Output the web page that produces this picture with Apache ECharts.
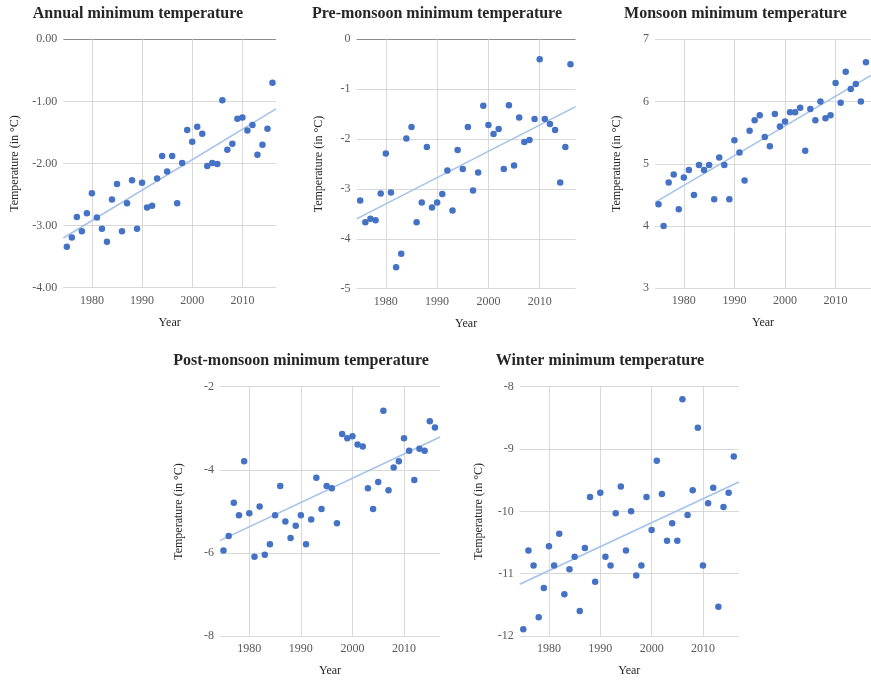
<!DOCTYPE html>
<html><head><meta charset="utf-8">
<script src="https://cdn.jsdelivr.net/npm/echarts@6/dist/echarts.min.js"></script>
<style>html,body{margin:0;padding:0;background:#fff;overflow:hidden}#c{width:871px;height:682px}</style>
</head><body><div id="c"></div>
<script>
// ---- data ----
const years = [1975,1976,1977,1978,1979,1980,1981,1982,1983,1984,1985,1986,1987,1988,1989,1990,1991,1992,1993,1994,1995,1996,1997,1998,1999,2000,2001,2002,2003,2004,2005,2006,2007,2008,2009,2010,2011,2012,2013,2014,2015,2016];
const annualMin = [-3.34,-3.19,-2.86,-3.09,-2.80,-2.48,-2.87,-3.05,-3.26,-2.58,-2.33,-3.09,-2.64,-2.27,-3.05,-2.31,-2.71,-2.68,-2.24,-1.88,-2.13,-1.88,-2.64,-1.99,-1.46,-1.65,-1.41,-1.52,-2.04,-1.99,-2.01,-0.98,-1.78,-1.68,-1.28,-1.26,-1.47,-1.38,-1.86,-1.70,-1.44,-0.70];
const preMonsoonMin = [-3.23,-3.67,-3.60,-3.63,-3.09,-2.29,-3.07,-4.57,-4.30,-1.99,-1.76,-3.67,-3.27,-2.16,-3.37,-3.27,-3.10,-2.63,-3.43,-2.22,-2.60,-1.76,-3.03,-2.67,-1.33,-1.72,-1.90,-1.80,-2.60,-1.32,-2.53,-1.57,-2.06,-2.02,-1.60,-0.40,-1.60,-1.70,-1.82,-2.87,-2.16,-0.50];
const monsoonMin = [4.35,4.00,4.70,4.83,4.27,4.78,4.90,4.50,4.98,4.90,4.98,4.43,5.10,4.98,4.43,5.38,5.18,4.73,5.53,5.70,5.78,5.43,5.28,5.80,5.60,5.68,5.83,5.83,5.90,5.21,5.88,5.70,6.00,5.73,5.78,6.30,5.98,6.48,6.20,6.28,6.00,6.63];
const postMonsoonMin = [-5.94,-5.59,-4.79,-5.09,-3.79,-5.04,-6.09,-4.88,-6.04,-5.79,-5.09,-4.39,-5.24,-5.64,-5.34,-5.09,-5.79,-5.19,-4.19,-4.94,-4.39,-4.44,-5.28,-3.14,-3.24,-3.19,-3.39,-3.44,-4.44,-4.94,-4.29,-2.58,-4.49,-3.94,-3.79,-3.24,-3.54,-4.24,-3.49,-3.54,-2.83,-2.98];
const winterMin = [-11.89,-10.63,-10.87,-11.70,-11.23,-10.56,-10.87,-10.36,-11.33,-10.93,-10.73,-11.60,-10.59,-9.77,-11.13,-9.70,-10.73,-10.87,-10.03,-9.60,-10.63,-10.00,-11.03,-10.87,-9.77,-10.30,-9.19,-9.72,-10.47,-10.19,-10.47,-8.20,-10.06,-9.66,-8.66,-10.87,-9.87,-9.62,-11.53,-9.93,-9.70,-9.12];
// trend line end points [year, value]
const annualTrend = [[1974.3,-3.20],[2016.7,-1.12]];
const preMonsoonTrend = [[1974.3,-3.60],[2017,-1.35]];
const monsoonTrend = [[1974.3,4.38],[2017,6.42]];
const postMonsoonTrend = [[1974.3,-5.70],[2017,-3.21]];
const winterTrend = [[1974.3,-11.17],[2017,-9.53]];
const xTickYears = [1980,1990,2000,2010];
const titles = ['Annual minimum temperature','Pre-monsoon minimum temperature','Monsoon minimum temperature','Post-monsoon minimum temperature','Winter minimum temperature'];
const yName = 'Temperature (in °C)';
const xName = 'Year';

// ---- layout ----
const panels = [
  {data: annualMin, trend: annualTrend, grid:{left:63.3, top:39.3, width:212.7, height:248.4}, xMin:1974.3, xMax:2016.7, yMin:-4, yMax:0, yInt:1, dec:2, nameGap:42, topLine:true, tx:138, ty:6},
  {data: preMonsoonMin, trend: preMonsoonTrend, grid:{left:356.6, top:39.3, width:219, height:249.4}, xMin:1974.3, xMax:2017, yMin:-5, yMax:0, yInt:1, dec:0, nameGap:32, topLine:true, tx:437, ty:6},
  {data: monsoonMin, trend: monsoonTrend, grid:{left:655, top:39.3, width:219.7, height:249}, xMin:1974.3, xMax:2017, yMin:3, yMax:7, yInt:1, dec:0, nameGap:32, topLine:false, tx:735.5, ty:6},
  {data: postMonsoonMin, trend: postMonsoonTrend, grid:{left:219.9, top:386.7, width:220.2, height:249.6}, xMin:1974.3, xMax:2017, yMin:-8, yMax:-2, yInt:2, dec:0, nameGap:35, topLine:false, tx:301, ty:353},
  {data: winterMin, trend: winterTrend, grid:{left:519.7, top:386.7, width:219.2, height:249.3}, xMin:1974.3, xMax:2017, yMin:-12, yMax:-8, yInt:1, dec:0, nameGap:35, topLine:false, tx:600, ty:353}
];

const serif = '"Liberation Serif", "Times New Roman", serif';
const gridColor = '#d9d9d9';
const option = {backgroundColor:'#fff', animation:false, title:[], grid:[], xAxis:[], yAxis:[], series:[]};
panels.forEach((p, i) => {
  option.title.push({text: titles[i], left: p.tx, top: p.ty, textAlign:'center', padding:0,
    textStyle:{fontFamily: serif, fontWeight:'bold', fontSize:16, color:'#262626'}});
  option.grid.push(Object.assign({containLabel:false}, p.grid));
  option.xAxis.push({type:'value', gridIndex:i, min:p.xMin, max:p.xMax,
    name:xName, nameLocation:'middle', nameGap:29,
    nameTextStyle:{fontFamily:serif, fontSize:12, color:'#262626'},
    axisLine:{show:false}, axisTick:{show:false, customValues:xTickYears},
    axisLabel:{customValues:xTickYears, margin:7, fontFamily:serif, fontSize:12, color:'#595959', formatter: v => String(Math.round(v))},
    splitLine:{show:true, lineStyle:{color:gridColor, width:1}}});
  const nTicks = Math.round((p.yMax - p.yMin)/p.yInt) + 1;
  const colors = [];
  for (let k = 0; k < nTicks; k++) colors.push(gridColor);
  if (p.topLine) colors[nTicks-1] = '#8c8c8c';
  option.yAxis.push({type:'value', gridIndex:i, min:p.yMin, max:p.yMax, interval:p.yInt,
    name:yName, nameLocation:'middle', nameGap:p.nameGap,
    nameTextStyle:{fontFamily:serif, fontSize:12, color:'#262626'},
    axisLine:{show:false}, axisTick:{show:false},
    axisLabel:{margin:6, fontFamily:serif, fontSize:12, color:'#595959', formatter: v => v.toFixed(p.dec)},
    splitLine:{show:true, lineStyle:{color:colors, width:1}}});
  option.series.push({type:'line', xAxisIndex:i, yAxisIndex:i, data:p.trend, showSymbol:false, symbol:'none',
    lineStyle:{color:'#a4c2ea', width:1.6}, z:2, silent:true});
  option.series.push({type:'scatter', xAxisIndex:i, yAxisIndex:i, data: years.map((y, k) => [y, p.data[k]]),
    symbolSize:6.5, itemStyle:{color:'#4472c4', opacity:1}, z:3});
});
const chart = echarts.init(document.getElementById('c'), null, {renderer:'canvas'});
chart.setOption(option);
</script></body></html>
